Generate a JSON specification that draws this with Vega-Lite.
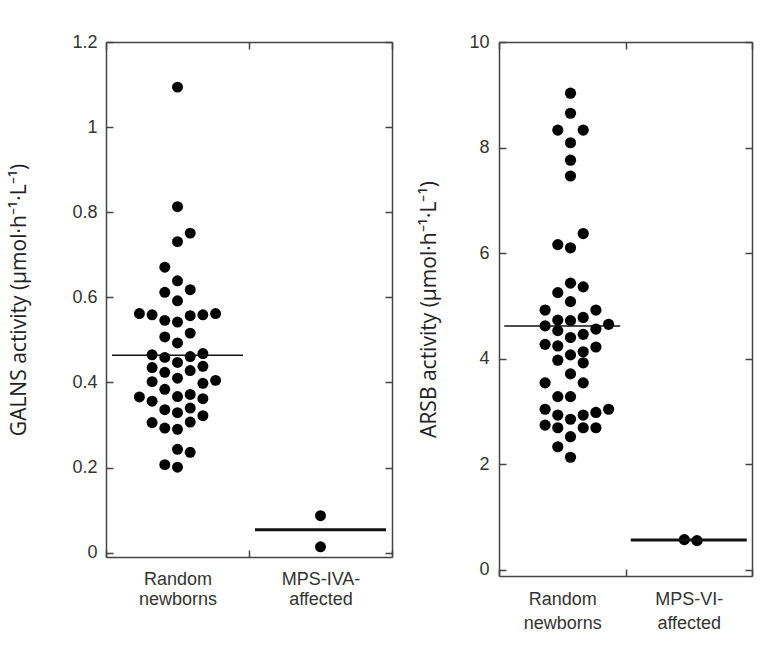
{
  "$schema": "https://vega.github.io/schema/vega-lite/v6.json",
  "padding": {"left": 8, "top": 33, "right": 8, "bottom": 10},
  "background": "white",
  "spacing": 25,
  "datasets": {
    "galns": [
      {"group": "Random newborns", "col": 0, "value": 1.094},
      {"group": "Random newborns", "col": 0, "value": 0.813},
      {"group": "Random newborns", "col": 1, "value": 0.751},
      {"group": "Random newborns", "col": 0, "value": 0.731},
      {"group": "Random newborns", "col": -1, "value": 0.671},
      {"group": "Random newborns", "col": 0, "value": 0.639},
      {"group": "Random newborns", "col": -1, "value": 0.612},
      {"group": "Random newborns", "col": 1, "value": 0.618},
      {"group": "Random newborns", "col": 0, "value": 0.592},
      {"group": "Random newborns", "col": -3, "value": 0.562},
      {"group": "Random newborns", "col": -2, "value": 0.559},
      {"group": "Random newborns", "col": -1, "value": 0.546},
      {"group": "Random newborns", "col": 0, "value": 0.542},
      {"group": "Random newborns", "col": 1, "value": 0.557},
      {"group": "Random newborns", "col": 2, "value": 0.559},
      {"group": "Random newborns", "col": 3, "value": 0.562},
      {"group": "Random newborns", "col": -1, "value": 0.507},
      {"group": "Random newborns", "col": 1, "value": 0.516},
      {"group": "Random newborns", "col": 0, "value": 0.493},
      {"group": "Random newborns", "col": -2, "value": 0.465},
      {"group": "Random newborns", "col": -1, "value": 0.459},
      {"group": "Random newborns", "col": 1, "value": 0.461},
      {"group": "Random newborns", "col": 2, "value": 0.468},
      {"group": "Random newborns", "col": 0, "value": 0.447},
      {"group": "Random newborns", "col": -2, "value": 0.435},
      {"group": "Random newborns", "col": 2, "value": 0.438},
      {"group": "Random newborns", "col": -1, "value": 0.424},
      {"group": "Random newborns", "col": 1, "value": 0.428},
      {"group": "Random newborns", "col": 0, "value": 0.410},
      {"group": "Random newborns", "col": -2, "value": 0.402},
      {"group": "Random newborns", "col": 2, "value": 0.398},
      {"group": "Random newborns", "col": 3, "value": 0.405},
      {"group": "Random newborns", "col": -1, "value": 0.384},
      {"group": "Random newborns", "col": -3, "value": 0.366},
      {"group": "Random newborns", "col": 0, "value": 0.367},
      {"group": "Random newborns", "col": 1, "value": 0.372},
      {"group": "Random newborns", "col": 2, "value": 0.362},
      {"group": "Random newborns", "col": -2, "value": 0.356},
      {"group": "Random newborns", "col": -1, "value": 0.336},
      {"group": "Random newborns", "col": 1, "value": 0.340},
      {"group": "Random newborns", "col": 0, "value": 0.329},
      {"group": "Random newborns", "col": 2, "value": 0.322},
      {"group": "Random newborns", "col": -2, "value": 0.306},
      {"group": "Random newborns", "col": 1, "value": 0.307},
      {"group": "Random newborns", "col": -1, "value": 0.293},
      {"group": "Random newborns", "col": 0, "value": 0.290},
      {"group": "Random newborns", "col": 0, "value": 0.243},
      {"group": "Random newborns", "col": 1, "value": 0.236},
      {"group": "Random newborns", "col": -1, "value": 0.207},
      {"group": "Random newborns", "col": 0, "value": 0.201},
      {"group": "MPS-IVA- affected", "col": 0, "value": 0.087},
      {"group": "MPS-IVA- affected", "col": 0, "value": 0.014}
    ],
    "galns_mean": [
      {"group": "Random newborns", "mean": 0.464},
      {"group": "MPS-IVA- affected", "mean": 0.054}
    ],
    "arsb": [
      {"group": "Random newborns", "col": 0, "value": 9.03},
      {"group": "Random newborns", "col": 0, "value": 8.65},
      {"group": "Random newborns", "col": -1, "value": 8.33},
      {"group": "Random newborns", "col": 1, "value": 8.33},
      {"group": "Random newborns", "col": 0, "value": 8.09},
      {"group": "Random newborns", "col": 0, "value": 7.76},
      {"group": "Random newborns", "col": 0, "value": 7.46},
      {"group": "Random newborns", "col": 1, "value": 6.37},
      {"group": "Random newborns", "col": -1, "value": 6.16},
      {"group": "Random newborns", "col": 0, "value": 6.10},
      {"group": "Random newborns", "col": 0, "value": 5.43},
      {"group": "Random newborns", "col": 1, "value": 5.36},
      {"group": "Random newborns", "col": -1, "value": 5.25},
      {"group": "Random newborns", "col": 0, "value": 5.08},
      {"group": "Random newborns", "col": -2, "value": 4.92},
      {"group": "Random newborns", "col": 2, "value": 4.92},
      {"group": "Random newborns", "col": 1, "value": 4.78},
      {"group": "Random newborns", "col": -1, "value": 4.73},
      {"group": "Random newborns", "col": 0, "value": 4.72},
      {"group": "Random newborns", "col": -2, "value": 4.62},
      {"group": "Random newborns", "col": -1, "value": 4.53},
      {"group": "Random newborns", "col": 2, "value": 4.56},
      {"group": "Random newborns", "col": 3, "value": 4.65},
      {"group": "Random newborns", "col": 0, "value": 4.40},
      {"group": "Random newborns", "col": 1, "value": 4.46},
      {"group": "Random newborns", "col": -2, "value": 4.27},
      {"group": "Random newborns", "col": -1, "value": 4.24},
      {"group": "Random newborns", "col": 2, "value": 4.22},
      {"group": "Random newborns", "col": 1, "value": 4.13},
      {"group": "Random newborns", "col": 0, "value": 4.07},
      {"group": "Random newborns", "col": -1, "value": 3.97},
      {"group": "Random newborns", "col": 1, "value": 3.92},
      {"group": "Random newborns", "col": 0, "value": 3.71},
      {"group": "Random newborns", "col": -2, "value": 3.54},
      {"group": "Random newborns", "col": 1, "value": 3.54},
      {"group": "Random newborns", "col": -1, "value": 3.28},
      {"group": "Random newborns", "col": 0, "value": 3.28},
      {"group": "Random newborns", "col": -2, "value": 3.04},
      {"group": "Random newborns", "col": 3, "value": 3.04},
      {"group": "Random newborns", "col": 2, "value": 2.98},
      {"group": "Random newborns", "col": 1, "value": 2.93},
      {"group": "Random newborns", "col": -1, "value": 2.93},
      {"group": "Random newborns", "col": 0, "value": 2.85},
      {"group": "Random newborns", "col": -2, "value": 2.74},
      {"group": "Random newborns", "col": -1, "value": 2.69},
      {"group": "Random newborns", "col": 1, "value": 2.69},
      {"group": "Random newborns", "col": 2, "value": 2.69},
      {"group": "Random newborns", "col": 0, "value": 2.52},
      {"group": "Random newborns", "col": -1, "value": 2.33},
      {"group": "Random newborns", "col": 0, "value": 2.13},
      {"group": "MPS-VI- affected", "col": -1, "value": 0.57},
      {"group": "MPS-VI- affected", "col": 0, "value": 0.55}
    ],
    "arsb_mean": [
      {"group": "Random newborns", "mean": 4.62},
      {"group": "MPS-VI- affected", "mean": 0.56}
    ]
  },
  "hconcat": [
    {
      "width": 286,
      "height": 515,
      "layer": [
        {
          "data": {"name": "galns"},
          "mark": {"type": "circle", "size": 120, "opacity": 1, "color": "#000"},
          "encoding": {
            "x": {"field": "group", "type": "nominal", "sort": ["Random newborns", "MPS-IVA- affected"],
              "scale": {"paddingInner": 0, "paddingOuter": 0},
              "axis": {"orient": "bottom", "title": null, "tickBand": "extent", "tickSize": -7, "labelPadding": 20, "labelAngle": 0, "labelExpr": "split(datum.label, ' ')", "labelLineHeight": 20, "labelBaseline": "top"}},
            "xOffset": {"field": "col", "type": "quantitative", "scale": {"domain": [-5.63, 5.63]}},
            "y": {"field": "value", "type": "quantitative",
              "scale": {"domain": [-0.01, 1.2], "nice": false, "zero": false},
              "axis": {"orient": "left", "values": [0, 0.2, 0.4, 0.6, 0.8, 1, 1.2], "format": "~g", "tickSize": -7, "labelPadding": 16, "title": "GALNS activity (µmol·h⁻¹·L⁻¹)", "titlePadding": 42}}
          }
        },
        {
          "data": {"name": "galns_mean"},
          "transform": [{"filter": "datum.group === 'Random newborns'"}],
          "mark": {"type": "tick", "size": 131, "thickness": 1.5, "color": "#111", "opacity": 1},
          "encoding": {
            "x": {"field": "group", "type": "nominal", "sort": ["Random newborns", "MPS-IVA- affected"],
              "axis": {"orient": "top", "title": null, "labels": false, "tickBand": "extent", "tickSize": -7}},
            "y": {"field": "mean", "type": "quantitative",
              "axis": {"orient": "right", "title": null, "labels": false, "values": [0, 0.2, 0.4, 0.6, 0.8, 1, 1.2], "tickSize": -7}}
          }
        },
        {
          "data": {"name": "galns_mean"},
          "transform": [{"filter": "datum.group !== 'Random newborns'"}],
          "mark": {"type": "tick", "size": 131, "thickness": 3, "color": "#111", "opacity": 1},
          "encoding": {
            "x": {"field": "group", "type": "nominal", "sort": ["Random newborns", "MPS-IVA- affected"], "axis": null},
            "y": {"field": "mean", "type": "quantitative", "axis": null}
          }
        }
      ],
      "resolve": {"axis": {"x": "independent", "y": "independent"}}
    },
    {
      "width": 253,
      "height": 534,
      "layer": [
        {
          "data": {"name": "arsb"},
          "mark": {"type": "circle", "size": 125, "opacity": 1, "color": "#000"},
          "encoding": {
            "x": {"field": "group", "type": "nominal", "sort": ["Random newborns", "MPS-VI- affected"],
              "scale": {"paddingInner": 0, "paddingOuter": 0},
              "axis": {"orient": "bottom", "title": null, "tickBand": "extent", "tickSize": -7, "labelPadding": 21, "labelAngle": 0, "labelExpr": "split(datum.label, ' ')", "labelLineHeight": 24, "labelBaseline": "top"}},
            "xOffset": {"field": "col", "type": "quantitative", "scale": {"domain": [-4.83, 4.83]}},
            "y": {"field": "value", "type": "quantitative",
              "scale": {"domain": [-0.12, 10], "nice": false, "zero": false},
              "axis": {"orient": "left", "values": [0, 2, 4, 6, 8, 10], "format": "d", "tickSize": -7, "labelPadding": 17, "title": "ARSB activity (µmol·h⁻¹·L⁻¹)", "titlePadding": 29}}
          }
        },
        {
          "data": {"name": "arsb_mean"},
          "transform": [{"filter": "datum.group === 'Random newborns'"}],
          "mark": {"type": "tick", "size": 116, "thickness": 1.5, "color": "#111", "opacity": 1},
          "encoding": {
            "x": {"field": "group", "type": "nominal", "sort": ["Random newborns", "MPS-VI- affected"],
              "axis": {"orient": "top", "title": null, "labels": false, "tickBand": "extent", "tickSize": -7}},
            "y": {"field": "mean", "type": "quantitative",
              "axis": {"orient": "right", "title": null, "labels": false, "values": [0, 2, 4, 6, 8, 10], "tickSize": -7}}
          }
        },
        {
          "data": {"name": "arsb_mean"},
          "transform": [{"filter": "datum.group !== 'Random newborns'"}],
          "mark": {"type": "tick", "size": 116, "thickness": 3, "color": "#111", "opacity": 1},
          "encoding": {
            "x": {"field": "group", "type": "nominal", "sort": ["Random newborns", "MPS-VI- affected"], "axis": null},
            "y": {"field": "mean", "type": "quantitative", "axis": null}
          }
        }
      ],
      "resolve": {"axis": {"x": "independent", "y": "independent"}}
    }
  ],
  "config": {
    "view": {"stroke": null},
    "axis": {
      "domainColor": "#444", "domainWidth": 1.5, "tickColor": "#444", "tickWidth": 1.5, "grid": false,
      "labelFont": "Liberation Sans", "labelFontSize": 18, "labelColor": "#333",
      "titleFont": "Open Sans", "titleFontSize": 21, "titleFontWeight": "normal", "titleColor": "#222"
    }
  }
}
